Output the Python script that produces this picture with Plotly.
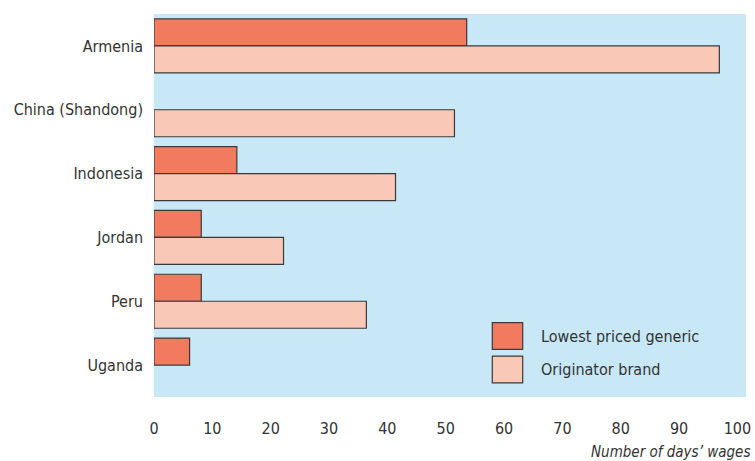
import plotly.graph_objects as go

countries = ["Armenia", "China (Shandong)", "Indonesia", "Jordan", "Peru", "Uganda"]
generic = [53.6, None, 14.2, 8.1, 8.1, 6.1]
originator = [96.9, 51.5, 41.4, 22.2, 36.4, None]
x_ticks = [0, 10, 20, 30, 40, 50, 60, 70, 80, 90, 100]
series_names = ["Lowest priced generic", "Originator brand"]

FONT = "DejaVu Sans Condensed, Liberation Sans Narrow, sans-serif"
C_GEN = "rgb(242,122,94)"
C_ORI = "rgb(250,200,182)"
C_LINE = "#3a3a3a"
C_TXT = "#333333"

fig = go.Figure()
fig.add_trace(go.Bar(y=countries, x=generic, orientation="h", name=series_names[0],
                     marker=dict(color=C_GEN, line=dict(color=C_LINE, width=1.2))))
fig.add_trace(go.Bar(y=countries, x=originator, orientation="h", name=series_names[1],
                     marker=dict(color=C_ORI, line=dict(color=C_LINE, width=1.2))))

L, R, T, B = 154, 9, 14, 64
W, H = 755, 461
pw, ph = W - L - R, H - T - B

def px(x):
    return (x - L) / pw

def py(y):
    return (H - B - y) / ph

shapes = []
annotations = []
for i, (name, col) in enumerate(zip(series_names, [C_GEN, C_ORI])):
    top = 322.7 + i * 33.5
    shapes.append(dict(type="rect", xref="paper", yref="paper",
                       x0=px(492.3), x1=px(522.7), y0=py(top + 26.7), y1=py(top),
                       fillcolor=col, line=dict(color=C_LINE, width=1.2)))
    annotations.append(dict(xref="paper", yref="paper", x=px(539), y=py(top + 13.5),
                            xanchor="left", yanchor="middle", text=name, showarrow=False,
                            font=dict(family=FONT, size=16, color=C_TXT)))

annotations.append(dict(xref="paper", yref="paper", x=px(752), y=py(452),
                        xanchor="right", yanchor="middle",
                        text="<i>Number of days’ wages</i>", showarrow=False,
                        font=dict(family=FONT, size=15, color=C_TXT)))

fig.update_layout(
    width=W, height=H,
    margin=dict(l=L, r=R, t=T, b=B, pad=0),
    paper_bgcolor="white",
    plot_bgcolor="rgb(200,232,248)",
    barmode="group",
    bargap=0.154,
    bargroupgap=0,
    showlegend=False,
    font=dict(family=FONT, size=16, color=C_TXT),
    shapes=shapes,
    annotations=annotations,
    xaxis=dict(range=[0, 101.47], tickvals=x_ticks, showgrid=False, zeroline=False,
               showline=False, ticks="", ticklabelstandoff=20, automargin=False,
               tickfont=dict(family=FONT, size=16, color=C_TXT)),
    yaxis=dict(autorange="reversed", showgrid=False, zeroline=False, showline=False,
               ticks="", ticklabelstandoff=10, automargin=False,
               tickfont=dict(family=FONT, size=16, color=C_TXT)),
)

fig.write_html("out.html")
